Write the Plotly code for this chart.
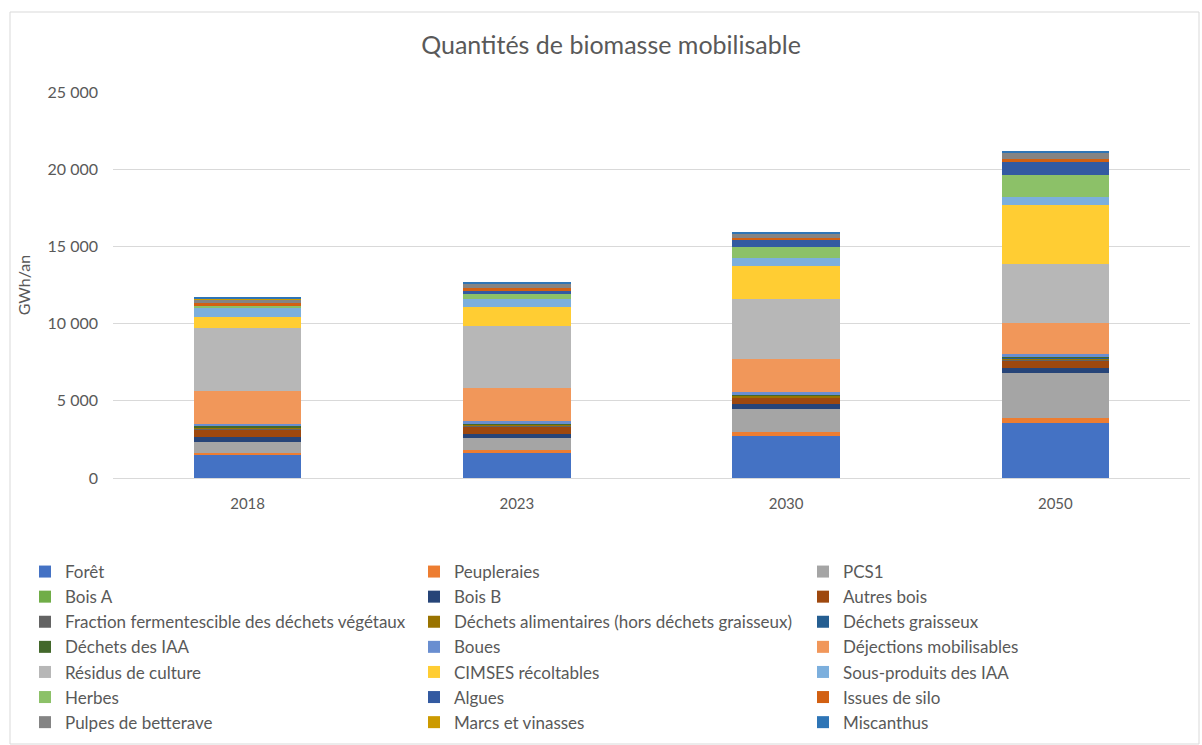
import plotly.graph_objects as go

# Years on the category axis
years = ["2018", "2023", "2030", "2050"]

# Mobilisable biomass by resource, GWh/an (stacked bottom to top)
foret = [1510, 1640, 2720, 3590]
peupleraies = [90, 170, 260, 320]
pcs1 = [700, 760, 1470, 2870]
bois_a = [0, 0, 0, 0]
bois_b = [370, 300, 325, 330]
autres_bois = [500, 470, 430, 480]
fraction_fermentescible = [30, 40, 40, 30]
dechets_alimentaires = [70, 70, 80, 150]
dechets_graisseux = [30, 30, 40, 30]
dechets_iaa = [40, 40, 40, 40]
boues = [150, 170, 170, 170]
dejections = [2140, 2160, 2115, 2030]
residus_culture = [4080, 4000, 3910, 3800]
cimses = [730, 1250, 2160, 3845]
sous_produits_iaa = [600, 475, 520, 500]
herbes = [100, 345, 670, 1470]
algues = [60, 170, 475, 820]
issues_silo = [120, 240, 150, 195]
pulpes_betterave = [260, 240, 260, 390]
marcs_vinasses = [20, 20, 20, 20]
miscanthus = [100, 90, 90, 65]

series = [
    ("Forêt", foret, "#4472C4"),
    ("Peupleraies", peupleraies, "#ED7D31"),
    ("PCS1", pcs1, "#A5A5A5"),
    ("Bois A", bois_a, "#70AD47"),
    ("Bois B", bois_b, "#264478"),
    ("Autres bois", autres_bois, "#9E480E"),
    ("Fraction fermentescible des déchets végétaux", fraction_fermentescible, "#636363"),
    ("Déchets alimentaires (hors déchets graisseux)", dechets_alimentaires, "#997300"),
    ("Déchets graisseux", dechets_graisseux, "#255E91"),
    ("Déchets des IAA", dechets_iaa, "#43682B"),
    ("Boues", boues, "#698ED0"),
    ("Déjections mobilisables", dejections, "#F1975A"),
    ("Résidus de culture", residus_culture, "#B7B7B7"),
    ("CIMSES récoltables", cimses, "#FFCD33"),
    ("Sous-produits des IAA", sous_produits_iaa, "#7CAFDD"),
    ("Herbes", herbes, "#8CC168"),
    ("Algues", algues, "#335AA1"),
    ("Issues de silo", issues_silo, "#D26012"),
    ("Pulpes de betterave", pulpes_betterave, "#848484"),
    ("Marcs et vinasses", marcs_vinasses, "#CC9A00"),
    ("Miscanthus", miscanthus, "#2E75B6"),
]

FONT = "Lato"
GREY = "#595959"

fig = go.Figure()
for name, vals, color in series:
    fig.add_trace(go.Bar(
        name=name, x=years, y=vals,
        marker=dict(color=color, line=dict(width=0)),
    ))

W, H = 1202, 745
L, R, T, B = 113, 12, 92, 267
pw, ph = W - L - R, H - T - B


def px_x(p):
    return (p - L) / pw


def px_y(p):
    return (H - B - p) / ph


fig.update_layout(
    width=W, height=H,
    margin=dict(l=L, r=R, t=T, b=B, autoexpand=False),
    barmode="stack",
    bargap=0.6,
    paper_bgcolor="white",
    plot_bgcolor="white",
    font=dict(family=FONT, size=15, color=GREY),
    title=dict(
        text="Quantités de biomasse mobilisable",
        font=dict(family=FONT, size=25, color=GREY),
        xref="container", x=611 / W, xanchor="center",
        yref="container", y=1 - 45 / H, yanchor="middle",
    ),
    xaxis=dict(
        showgrid=False,
        showline=True, linecolor="#D9D9D9", linewidth=1,
        ticks="", ticklabelstandoff=12,
        tickfont=dict(family=FONT, size=15, color=GREY),
    ),
    yaxis=dict(
        range=[0, 25000],
        dtick=5000,
        tickformat=",d",
        showgrid=True, gridcolor="#D9D9D9", gridwidth=1,
        zeroline=False, showline=False,
        ticks="", ticklabelstandoff=14,
        tickfont=dict(family=FONT, size=16, color=GREY),
        title=dict(text="GWh/an", font=dict(family=FONT, size=16, color=GREY), standoff=12),
    ),
    separators=", ",
    legend=dict(
        orientation="h",
        traceorder="normal",
        x=px_x(25), xanchor="left",
        y=px_y(554), yanchor="top",
        entrywidth=344,
        font=dict(family=FONT, size=17, color=GREY),
        itemclick=False, itemdoubleclick=False,
        tracegroupgap=0,
    ),
    showlegend=True,
    shapes=[dict(
        type="rect", xref="paper", yref="paper",
        x0=px_x(10), x1=px_x(1199), y0=px_y(744), y1=px_y(12),
        line=dict(color="#D9D9D9", width=1), fillcolor="rgba(0,0,0,0)",
        layer="below",
    )],
)

fig.write_html("out.html")
